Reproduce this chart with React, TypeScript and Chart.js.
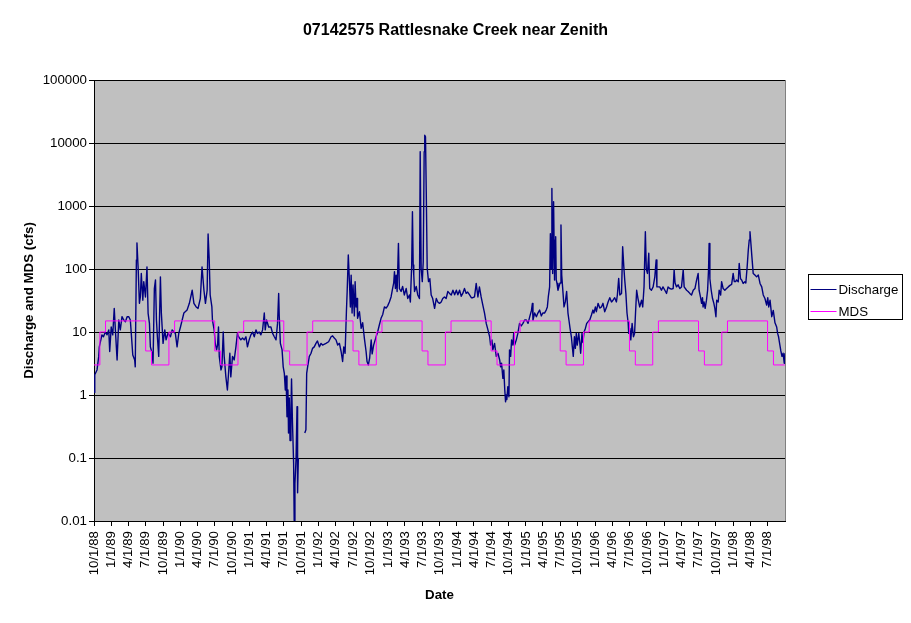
import { useEffect, useRef } from 'react';
import Chart from 'chart.js/auto';

const chartTitle = '07142575 Rattlesnake Creek near Zenith';
const xTitle = 'Date';
const yTitle = 'Discharge and MDS (cfs)';

// quarterly labels on the date axis
const dateTicks = [
  '10/1/88',
  '1/1/89', '4/1/89', '7/1/89', '10/1/89',
  '1/1/90', '4/1/90', '7/1/90', '10/1/90',
  '1/1/91', '4/1/91', '7/1/91', '10/1/91',
  '1/1/92', '4/1/92', '7/1/92', '10/1/92',
  '1/1/93', '4/1/93', '7/1/93', '10/1/93',
  '1/1/94', '4/1/94', '7/1/94', '10/1/94',
  '1/1/95', '4/1/95', '7/1/95', '10/1/95',
  '1/1/96', '4/1/96', '7/1/96', '10/1/96',
  '1/1/97', '4/1/97', '7/1/97', '10/1/97',
  '1/1/98', '4/1/98', '7/1/98',
];
const axisStart = '10/1/88';
const axisEnd = '10/1/98';

const yTicks = [0.01, 0.1, 1, 10, 100, 1000, 10000, 100000];

// daily discharge (one block per water year)
const flowDates = [
  // WY1989
  '10/1/88', '10/5/88', '10/17/88', '10/26/88', '10/29/88', '11/12/88', '11/20/88', '11/30/88', '12/9/88', '12/18/88', '12/23/88', '12/31/88',
  '1/8/89', '1/16/89', '1/22/89', '1/31/89', '2/9/89', '2/17/89', '2/26/89', '3/7/89', '3/16/89', '3/25/89', '4/3/89', '4/11/89', '4/16/89', '4/24/89',
  '5/4/89', '5/7/89', '5/13/89', '5/16/89', '5/22/89', '5/29/89', '6/3/89', '6/8/89', '6/16/89', '6/21/89', '6/30/89',
  '7/8/89', '7/14/89', '7/21/89', '7/26/89', '8/4/89', '8/9/89', '8/16/89', '8/22/89', '8/27/89', '9/1/89', '9/8/89', '9/17/89', '9/22/89',
  // WY1990
  '10/1/89', '10/10/89', '10/17/89', '10/27/89', '11/9/89', '11/18/89', '12/5/89', '12/14/89', '12/23/89',
  '1/1/90', '1/19/90', '2/5/90', '2/17/90', '3/4/90', '3/13/90', '3/25/90', '4/4/90', '4/16/90', '4/25/90',
  '5/5/90', '5/13/90', '5/22/90', '5/27/90', '6/2/90', '6/7/90', '6/16/90', '6/19/90', '6/28/90',
  '7/4/90', '7/11/90', '7/16/90', '7/21/90', '7/25/90', '8/3/90', '8/8/90', '8/15/90', '8/20/90', '8/29/90',
  '9/6/90', '9/12/90', '9/19/90', '9/24/90',
  // WY1991
  '10/3/90', '10/12/90', '10/21/90', '10/29/90', '11/4/90', '11/16/90', '11/25/90', '12/4/90', '12/13/90', '12/21/90', '12/30/90',
  '1/8/91', '1/17/91', '1/26/91', '2/4/91', '2/12/91', '2/21/91', '3/2/91', '3/11/91', '3/20/91', '3/25/91',
  '4/1/91', '4/12/91', '4/24/91', '5/3/91', '5/12/91', '5/21/91', '5/29/91', '6/4/91', '6/7/91', '6/13/91', '6/22/91', '6/28/91',
  '7/4/91', '7/9/91', '7/13/91', '7/18/91', '7/23/91', '7/26/91', '7/30/91', '8/3/91', '8/8/91', '8/11/91', '8/16/91', '8/22/91', '8/25/91', '8/29/91',
  '9/4/91', '9/9/91', '9/12/91', '9/16/91', '9/25/91',
  // WY1992
  '10/20/91', '10/26/91', '10/30/91', '11/4/91', '11/13/91', '11/22/91', '11/30/91', '12/9/91', '12/18/91', '12/26/91',
  '1/5/92', '1/14/92', '1/22/92', '2/9/92', '2/23/92', '3/7/92', '3/15/92', '3/24/92', '4/2/92', '4/11/92', '4/20/92', '4/29/92',
  '5/7/92', '5/13/92', '5/20/92', '5/27/92', '5/31/92', '6/6/92', '6/12/92', '6/17/92', '6/21/92', '6/26/92',
  '7/1/92', '7/8/92', '7/12/92', '7/17/92', '7/22/92', '7/25/92', '8/4/92', '8/13/92', '8/21/92', '8/30/92',
  '9/8/92', '9/13/92', '9/20/92', '9/27/92',
  // WY1993
  '10/5/92', '10/10/92', '10/18/92', '10/31/92', '11/8/92', '11/17/92', '11/26/92', '12/5/92', '12/14/92', '12/23/92', '12/31/92',
  '1/9/93', '1/18/93', '1/26/93', '2/1/93', '2/5/93', '2/10/93', '2/14/93', '2/19/93', '2/26/93', '3/3/93', '3/12/93', '3/20/93', '3/29/93',
  '4/8/93', '4/16/93', '4/25/93', '4/30/93', '5/7/93', '5/11/93', '5/15/93', '5/18/93', '5/22/93', '5/31/93',
  '6/8/93', '6/17/93', '6/21/93', '6/26/93', '7/2/93', '7/7/93', '7/12/93', '7/15/93', '7/19/93', '7/23/93', '7/28/93',
  '8/4/93', '8/11/93', '8/18/93', '8/26/93', '9/5/93', '9/14/93', '9/22/93',
  // WY1994
  '10/1/93', '10/10/93', '10/18/93', '10/27/93', '11/5/93', '11/14/93', '11/23/93', '12/2/93', '12/11/93', '12/20/93', '12/29/93',
  '1/6/94', '1/15/94', '1/24/94', '2/1/94', '2/10/94', '2/19/94', '2/27/94', '3/9/94', '3/18/94', '3/26/94',
  '4/4/94', '4/13/94', '4/22/94', '4/30/94', '5/9/94', '5/18/94', '5/27/94', '6/5/94', '6/14/94', '6/23/94', '6/28/94',
  '7/5/94', '7/10/94', '7/19/94', '7/28/94', '8/6/94', '8/15/94', '8/20/94', '8/25/94',
  '9/1/94', '9/6/94', '9/11/94', '9/15/94', '9/19/94', '9/22/94', '9/27/94',
  // WY1995
  '10/3/94', '10/6/94', '10/12/94', '10/17/94', '10/24/94', '10/28/94', '11/2/94', '11/11/94', '11/19/94', '11/28/94', '12/7/94', '12/16/94', '12/25/94',
  '1/3/95', '1/12/95', '1/21/95', '1/30/95', '2/4/95', '2/7/95', '2/16/95', '2/25/95', '3/5/95', '3/14/95', '3/23/95', '3/31/95',
  '4/9/95', '4/18/95', '4/24/95', '4/29/95', '5/6/95', '5/10/95', '5/15/95', '5/18/95', '5/22/95', '5/27/95',
  '6/1/95', '6/4/95', '6/7/95', '6/10/95', '6/14/95', '6/19/95', '6/30/95', '7/5/95', '7/9/95', '7/16/95', '7/21/95', '7/28/95',
  '8/4/95', '8/11/95', '8/16/95', '8/22/95', '8/29/95', '9/3/95', '9/8/95', '9/14/95', '9/19/95', '9/24/95', '9/29/95',
  // WY1996
  '10/7/95', '10/12/95', '10/17/95', '10/24/95', '10/29/95', '11/4/95', '11/11/95', '11/18/95', '11/25/95', '12/4/95', '12/13/95', '12/21/95', '12/26/95',
  '1/3/96', '1/8/96', '1/17/96', '1/26/96', '2/4/96', '2/12/96', '2/21/96', '3/2/96', '3/10/96', '3/19/96', '3/28/96',
  '4/5/96', '4/14/96', '4/23/96', '4/28/96', '5/5/96', '5/11/96', '5/20/96', '5/26/96', '6/1/96', '6/6/96', '6/12/96', '6/18/96', '6/24/96', '6/27/96',
  '7/3/96', '7/8/96', '7/15/96', '7/22/96', '7/28/96', '8/2/96', '8/8/96', '8/15/96', '8/24/96',
  '9/3/96', '9/9/96', '9/16/96', '9/23/96', '9/28/96',
  // WY1997
  '10/4/96', '10/11/96', '10/16/96', '10/25/96', '11/3/96', '11/12/96', '11/19/96', '11/23/96', '11/29/96', '12/8/96', '12/17/96', '12/25/96',
  '1/4/97', '1/13/97', '1/21/97', '1/30/97', '2/8/97', '2/17/97', '2/22/97', '2/27/97', '3/7/97', '3/15/97', '3/24/97',
  '4/2/97', '4/11/97', '4/16/97', '4/29/97', '5/7/97', '5/16/97', '5/25/97', '6/3/97', '6/12/97', '6/21/97', '6/29/97',
  '7/4/97', '7/12/97', '7/17/97', '7/22/97', '7/25/97', '7/30/97', '8/5/97', '8/12/97', '8/18/97', '8/23/97', '8/26/97', '8/30/97',
  '9/6/97', '9/13/97', '9/20/97', '9/25/97',
  // WY1998
  '10/1/97', '10/5/97', '10/13/97', '10/18/97', '10/26/97', '10/31/97', '11/8/97', '11/17/97', '11/26/97', '12/5/97', '12/14/97', '12/23/97', '12/31/97',
  '1/6/98', '1/13/98', '1/18/98', '1/27/98', '2/1/98', '2/8/98', '2/14/98', '2/22/98', '3/3/98', '3/8/98', '3/15/98', '3/21/98', '3/26/98', '3/30/98',
  '4/4/98', '4/9/98', '4/16/98', '4/25/98', '5/4/98', '5/13/98', '5/22/98', '5/31/98', '6/8/98', '6/17/98', '6/26/98',
  '7/2/98', '7/7/98', '7/14/98', '7/23/98', '7/31/98', '8/9/98', '8/18/98', '8/23/98', '8/28/98',
  '9/4/98', '9/9/98', '9/15/98', '9/21/98', '9/27/98', '9/30/98',
];

const flowValues: (number | null)[] = [
  // WY1989
  1.1, 2.1, 2.5, 4.1, 5.8, 9, 8.4, 10, 9, 10.8, 4.9, 12,
  9, 23.7, 10.8, 3.6, 15.5, 10.8, 17.5, 15.5, 14.5, 17.5, 17.5, 15.5, 9.5, 4.3,
  3.6, 2.8, 139, 260, 108, 28.5, 36, 85, 32, 63, 36,
  108, 19.8, 13.7, 5.8, 4.6, 3.2, 49, 67, 15.5, 8.4, 4.1, 75, 20,
  // WY1990
  6.6, 10.8, 7.5, 9.6, 8.4, 10.8, 9.5, 5.8, 9.5,
  12, 20, 22.3, 28.5, 46, 28.5, 25, 23.7, 34, 108,
  46, 28.5, 46, 360, 139, 38.7, 25, 15.5, 10.8,
  6.6, 5.2, 6.2, 12, 4.1, 2.5, 2.8, 10, 4.1, 1.94,
  1.2, 2.2, 4.6, 1.94,
  // WY1991
  4.1, 3.6, 5.8, 9.5, 8.4, 7.5, 8, 7.5, 8.4, 5.8, 7.5,
  9, 10, 8.4, 10.8, 9.5, 10, 9, 10.8, 20, 10.8,
  15.5, 12, 12, 9.5, 8.4, 7.5, 13.7, 41, 18, 6.6, 5.2, 2.8,
  2.2, 1.2, 2.0, 0.45, 1.2, 0.25, 0.9, 0.19, 0.6, 1.8, 0.36, 0.083, 0.0102, 0.039,
  0.1, 0.65, 0.028, 0.1, null,
  // WY1992
  0.25, 0.28, 2.2, 2.8, 4.1, 4.6, 5.5, 5.8, 6.6, 7.2,
  5.8, 6.6, 6.2, 6.6, 7, 8.4, 8.7, 8, 7.5, 6.2, 6.6, 4.9,
  3.4, 5.8, 4.6, 21, 44, 167, 63, 25, 80, 20,
  56, 18, 63, 25, 34, 16.5, 21, 11.4, 14, 7.9,
  4.9, 3.4, 3, 3.9,
  // WY1993
  7.5, 4.5, 6.2, 8.4, 10, 12.9, 16.5, 19, 25, 24, 26,
  30, 36, 49, 60, 91, 49, 80, 44, 255, 49, 44, 53, 38.7,
  49, 34, 38.7, 30, 116, 813, 116, 80, 44, 53,
  38.7, 34, 7300, 103, 63, 130, 7300, 13300, 12500, 1700, 103,
  63, 70, 38.7, 34, 23.7, 34, 30,
  // WY1994
  28.5, 30, 34, 36, 34, 44, 41, 38.7, 46, 39, 46,
  39, 46, 37, 41, 49, 41, 43, 38.7, 35, 35,
  36, 59, 36, 52, 36, 26.8, 20, 13.7, 10.8, 8.4, 6.2,
  7.5, 5.2, 6.6, 4.1, 4.6, 3.6, 2.8, 3.2,
  1.84, 2.5, 1.2, 0.78, 1.0, 0.85, 1.35,
  // WY1995
  0.94, 5.2, 4.1, 7.5, 6.2, 9.5, 6.2, 7.5, 9.5, 13.7, 12.5, 13.7, 15.5,
  15.5, 13.7, 17.5, 22, 28.5, 15.5, 20, 17.5, 20, 22.3, 18, 20,
  20, 22.3, 25, 36, 52, 365, 100, 1900, 85, 1170,
  67, 289, 325, 67, 59, 46, 60, 500, 80, 41, 25, 30,
  44, 20, 15.5, 11.4, 8.4, 5.8, 4.1, 8.4, 5.5, 9.5, 6.2,
  // WY1996
  9.5, 7, 4.6, 9.5, 6.8, 10, 11.4, 13.7, 14.5, 15.5, 18.6, 22.3, 20,
  25, 21, 28.5, 24, 25, 28.5, 21, 25, 30, 35, 30,
  32, 35, 30, 38.7, 71, 38.7, 41, 225, 110, 67, 41, 20, 14, 9.5,
  11.4, 7.5, 13.7, 8.4, 9.5, 20, 46, 34, 25,
  32, 25, 52, 390, 100,
  // WY1997
  85, 178, 49, 46, 52, 75, 139, 52, 52, 52, 46, 52,
  46, 41, 52, 49, 48, 49, 97, 60, 52, 56, 49,
  52, 97, 52, 46, 44, 41, 38.7, 46, 49, 67, 85,
  46, 35, 28.5, 35, 25, 30, 23.7, 32, 46, 100, 255, 70,
  46, 34, 28.5, 24,
  // WY1998
  17.5, 32, 30, 46, 38.7, 63, 49, 46, 49, 52, 55, 57, 85,
  63, 63, 67, 63, 123, 70, 67, 59, 63, 60, 108, 200, 289, 390,
  250, 157, 85, 80, 75, 80, 59, 52, 38.7, 34, 26.8,
  35, 25, 32, 17.5, 22, 14, 12, 9.5, 8.4,
  6.2, 5, 4.1, 4.6, 3.2, 4.6,
];

// MDS steps: each value holds from its date until the next one
const mdsDates = [
  '10/1/88', '11/1/88', '12/1/88', '7/1/89', '8/1/89',
  '11/1/89', '12/1/89', '7/1/90', '8/1/90',
  '11/1/90', '12/1/90', '7/1/91', '8/1/91',
  '11/1/91', '12/1/91', '7/1/92', '8/1/92',
  '11/1/92', '12/1/92', '7/1/93', '8/1/93',
  '11/1/93', '12/1/93', '7/1/94', '8/1/94',
  '11/1/94', '12/1/94', '7/1/95', '8/1/95',
  '11/1/95', '12/1/95', '7/1/96', '8/1/96',
  '11/1/96', '12/1/96', '7/1/97', '8/1/97',
  '11/1/97', '12/1/97', '7/1/98', '8/1/98', '9/30/98',
];
const mdsValues = [
  3, 10, 15, 5, 3,
  10, 15, 5, 3,
  10, 15, 5, 3,
  10, 15, 5, 3,
  10, 15, 5, 3,
  10, 15, 5, 3,
  10, 15, 5, 3,
  10, 15, 5, 3,
  10, 15, 5, 3,
  10, 15, 5, 3, 3,
];

const FONT = '"Liberation Sans", Arial, sans-serif';

function dayOf(s: string) {
  const [m, d, y] = s.split('/').map(Number);
  const [m0, d0, y0] = axisStart.split('/').map(Number);
  return (Date.UTC(1900 + y, m - 1, d) - Date.UTC(1900 + y0, m0 - 1, d0)) / 86400000;
}

const plotBackground = {
  id: 'plotBackground',
  beforeDraw(chart: any) {
    const { ctx, chartArea: a } = chart;
    ctx.save();
    ctx.fillStyle = '#ffffff';
    ctx.fillRect(0, 0, chart.width, chart.height);
    ctx.fillStyle = '#c0c0c0';
    ctx.fillRect(a.left, a.top, a.right - a.left, a.bottom - a.top);
    ctx.strokeStyle = '#808080';
    ctx.lineWidth = 1;
    ctx.beginPath();
    ctx.moveTo(a.right + 0.5, a.top);
    ctx.lineTo(a.right + 0.5, a.bottom);
    ctx.stroke();
    ctx.restore();
  },
};

// Excel-like legend: white box with a black frame to the right of the plot
const boxLegend = {
  id: 'boxLegend',
  afterDraw(chart: any) {
    const { ctx, chartArea: a } = chart;
    const left = a.right + 23.5;
    const top = Math.round((a.top + a.bottom) / 2) - 26.5;
    const w = 94;
    const h = 45;
    ctx.save();
    ctx.fillStyle = '#ffffff';
    ctx.fillRect(left, top, w, h);
    ctx.strokeStyle = '#000000';
    ctx.lineWidth = 1;
    ctx.strokeRect(left, top, w, h);
    ctx.font = `13.3px ${FONT}`;
    ctx.textBaseline = 'middle';
    ctx.textAlign = 'left';
    chart.data.datasets.forEach((ds: any, i: number) => {
      const y = Math.round(top + 14 + i * 22.5) + 0.5;
      ctx.strokeStyle = ds.borderColor;
      ctx.lineWidth = 1;
      ctx.beginPath();
      ctx.moveTo(left + 2, y);
      ctx.lineTo(left + 28, y);
      ctx.stroke();
      ctx.fillStyle = '#000000';
      ctx.fillText(ds.label, left + 30, y + 0.5);
    });
    ctx.restore();
  },
};

export default function App() {
  const canvasRef = useRef<HTMLCanvasElement | null>(null);

  useEffect(() => {
    if (!canvasRef.current) return;

    const chart = new Chart(canvasRef.current, {
      type: 'line',
      data: {
        datasets: [
          {
            label: 'Discharge',
            data: flowDates.map((d, i) => ({ x: dayOf(d), y: flowValues[i] })),
            borderColor: '#000080',
            backgroundColor: '#000080',
            borderWidth: 1.4,
            borderJoinStyle: 'round',
            pointRadius: 0,
            tension: 0,
            spanGaps: false,
            order: 2,
          },
          {
            label: 'MDS',
            data: mdsDates.map((d, i) => ({ x: dayOf(d), y: mdsValues[i] })),
            borderColor: '#ff00ff',
            backgroundColor: '#ff00ff',
            borderWidth: 1,
            pointRadius: 0,
            stepped: 'before',
            order: 1,
          },
        ],
      } as any,
      options: {
        animation: false,
        responsive: true,
        maintainAspectRatio: false,
        events: [],
        layout: { padding: 0 },
        plugins: {
          legend: { display: false },
          tooltip: { enabled: false },
          title: {
            display: true,
            text: chartTitle,
            color: '#000',
            font: { family: FONT, size: 16, weight: 'bold', lineHeight: 1.2 },
            padding: { top: 21.4, bottom: 39.4 },
          },
        },
        scales: {
          x: {
            type: 'linear',
            min: 0,
            max: dayOf(axisEnd),
            afterBuildTicks: (s: any) => {
              s.ticks = dateTicks.map((t) => ({ value: dayOf(t) }));
            },
            afterFit: (s: any) => {
              s.height = 102;
            },
            grid: { drawOnChartArea: false, tickLength: 5, color: '#000' },
            border: { color: '#000' },
            ticks: {
              autoSkip: false,
              minRotation: 90,
              maxRotation: 90,
              padding: 5,
              color: '#000',
              font: { family: FONT, size: 13.3 },
              callback: (_v: any, i: number) => dateTicks[i],
            },
            title: {
              display: true,
              text: xTitle,
              color: '#000',
              font: { family: FONT, size: 13.3, weight: 'bold' },
              padding: { top: 0, bottom: 20 },
            },
          },
          y: {
            type: 'logarithmic',
            min: 0.01,
            max: 100000,
            afterBuildTicks: (s: any) => {
              s.ticks = yTicks.map((v) => ({ value: v, major: true }));
            },
            afterFit: (s: any) => {
              s.width = 94;
            },
            grid: { color: '#000', tickLength: 5 },
            border: { color: '#000' },
            ticks: {
              color: '#000',
              padding: 2,
              font: { family: FONT, size: 13.3 },
              callback: (v: any) => String(v),
            },
            title: {
              display: true,
              text: yTitle,
              color: '#000',
              font: { family: FONT, size: 13.3, weight: 'bold' },
              padding: { top: 21, bottom: 0 },
            },
          },
          // empty space on the right that holds the legend
          legendSpace: {
            type: 'linear',
            position: 'right',
            display: true,
            grid: { display: false },
            border: { display: false },
            ticks: { display: false },
            afterFit: (s: any) => {
              s.width = 126;
            },
          },
        },
      } as any,
      plugins: [plotBackground, boxLegend],
    });

    return () => {
      chart.destroy();
    };
  }, []);

  return (
    <div style={{ position: 'fixed', left: 0, top: 0, width: 911, height: 623, background: '#fff' }}>
      <canvas ref={canvasRef} />
    </div>
  );
}
